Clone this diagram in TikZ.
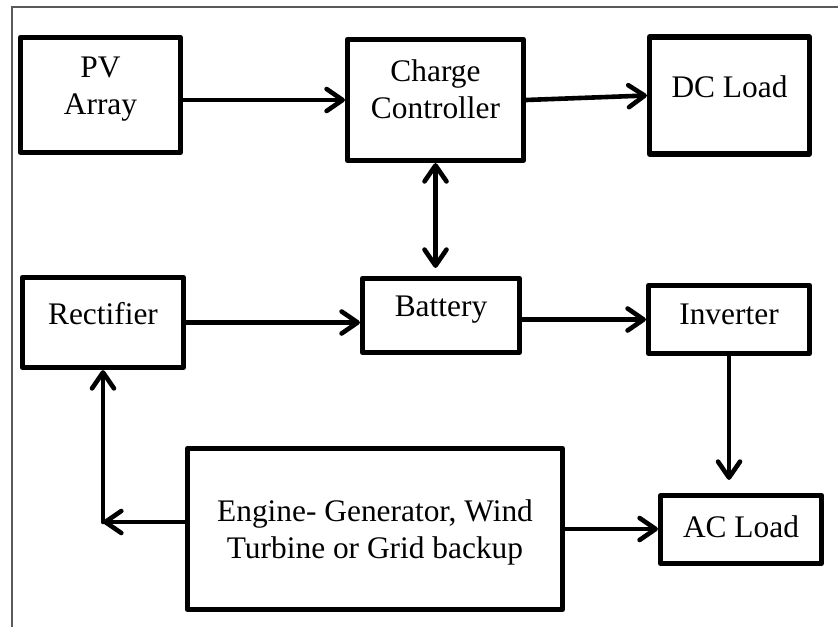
\documentclass[tikz,border=0pt]{standalone}
\usepackage{fontspec}
\setmainfont{Liberation Serif}
\usetikzlibrary{arrows.meta,positioning,calc}
\definecolor{frame}{HTML}{5A5A5A}
\tikzset{box/.style={draw=black,line width=2.6pt,line join=round,align=center,inner sep=3pt,text depth=9pt,font=\fontsize{15.7}{18.5}\selectfont},arrow/.style={-{Straight Barb[length=8pt,width=11pt,round]},line width=2.3pt,line cap=round}}
\begin{document}
\begin{tikzpicture}[x=0.5pt,y=-0.5pt]
\useasboundingbox (0,0) rectangle (838,626);
\draw[frame,line width=0.8pt] (12,7) rectangle (860,650);
\node[box,minimum width=80pt,minimum height=57.5pt] (pv) at (100.5,95) {PV\\Array};
\node[box,minimum width=88pt,minimum height=60.5pt,text depth=11pt] (cc) at (435.5,100) {Charge\\Controller};
\node[box,minimum width=80pt,minimum height=58.5pt] (dc) at (729.5,95.5) {DC Load};
\node[box,minimum width=80.5pt,minimum height=45pt] (rect) at (103,322.5) {Rectifier};
\node[box,minimum width=78.5pt,minimum height=37pt] (bat) at (441,315.5) {Battery};
\node[box,minimum width=80.5pt,minimum height=34pt,text depth=5pt] (inv) at (729,319.5) {Inverter};
\node[box,minimum width=187.5pt,minimum height=80.5pt,text depth=0pt] (eng) at (375,529) {Engine- Generator, Wind\\Turbine or Grid backup};
\node[box,minimum width=80.5pt,minimum height=34pt,text depth=3pt] (ac) at (741,529.5) {AC Load};
\coordinate (bend) at ([yshift=3.5pt]eng.west -| rect.south);
\draw[arrow](pv.east |- cc.west)--(cc.west);\draw[arrow](cc.east)--(dc.west);
\draw[arrow,{Straight Barb[length=8pt,width=11pt,round]}-{Straight Barb[length=8pt,width=11pt,round]},shorten >=4pt](cc.south)--(cc.south |- bat.north);
\draw[arrow](rect.east)--(rect.east -| bat.west);\draw[arrow](bat.east |- inv.west)--(inv.west);
\draw[arrow,shorten >=6.5pt](inv.south)--(inv.south |- ac.north);
\draw[arrow]([yshift=3.5pt]eng.west)--(bend);\draw[arrow](bend)--(rect.south);
\draw[arrow](eng.east)--(eng.east -| ac.west);
\end{tikzpicture}
\end{document}
